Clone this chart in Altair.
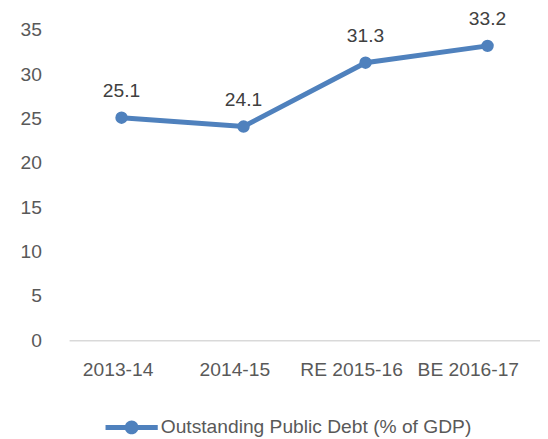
import altair as alt
import pandas as pd

years = ["2013-14", "2014-15", "RE 2015-16", "BE 2016-17"]
debt = [25.1, 24.1, 31.3, 33.2]
series = "Outstanding Public Debt (% of GDP)"

df = pd.DataFrame({"year": years, "debt": debt, "series": [series] * len(years)})

FONT = "Liberation Sans"
FS = 19.5
BLUE = "#4F81BD"

# custom legend symbol: line with a dot (unit box -1..1)
legend_path = (
    "M-1,-0.094 L1,-0.094 L1,0.094 L-1,0.094 Z "
    "M0.264,0 A0.264,0.264 0 1 1 -0.264,0 A0.264,0.264 0 1 1 0.264,0 Z"
)

x = alt.X(
    "year:N",
    sort=years,
    scale=alt.Scale(type="point", padding=0.43),
    axis=alt.Axis(
        title=None, labelAngle=0, ticks=False, grid=False,
        domainColor="#D9D9D9", domainWidth=1.5,
        labelFont=FONT, labelFontSize=FS, labelColor="#595959", labelPadding=21,
        labelOffset={"expr": "-4 - 16 * datum.index"},
    ),
)
y = alt.Y(
    "debt:Q",
    scale=alt.Scale(domain=[0, 35], nice=False),
    axis=alt.Axis(
        title=None, values=[0, 5, 10, 15, 20, 25, 30, 35], ticks=False, grid=False,
        domain=False, labelFont=FONT, labelFontSize=FS, labelColor="#595959",
        labelPadding=28,
    ),
)

color_scale = alt.Scale(range=[BLUE])
legend = alt.Legend(
    title=None, orient="none", legendX=37, legendY=377,
    symbolType=legend_path, symbolSize=2809, symbolFillColor=BLUE,
    symbolStrokeWidth=0, labelFont=FONT, labelFontSize=FS,
    labelColor="#595959", labelOffset=3, labelLimit=600,
)

base = alt.Chart(df)
line = base.mark_line(strokeWidth=5).encode(
    x=x, y=y, color=alt.Color("series:N", scale=color_scale, legend=legend)
)
pts = base.mark_circle(size=160, opacity=1).encode(
    x=x, y=y, color=alt.Color("series:N", scale=color_scale, legend=None)
)
labels = base.mark_text(
    dy=-27, baseline="middle", font=FONT, fontSize=FS, color="#404040"
).encode(x=x, y=y, text=alt.Text("debt:Q", format=".1f"))

chart = (
    alt.layer(line, pts, labels)
    .properties(
        width=478, height=315,
        autosize=alt.AutoSizeParams(type="none"),
        padding={"left": 62, "top": 19, "right": 0, "bottom": 96},
    )
    .configure_view(stroke=None)
)

chart.save("out.html", embed_options={"renderer": "svg", "actions": False})
